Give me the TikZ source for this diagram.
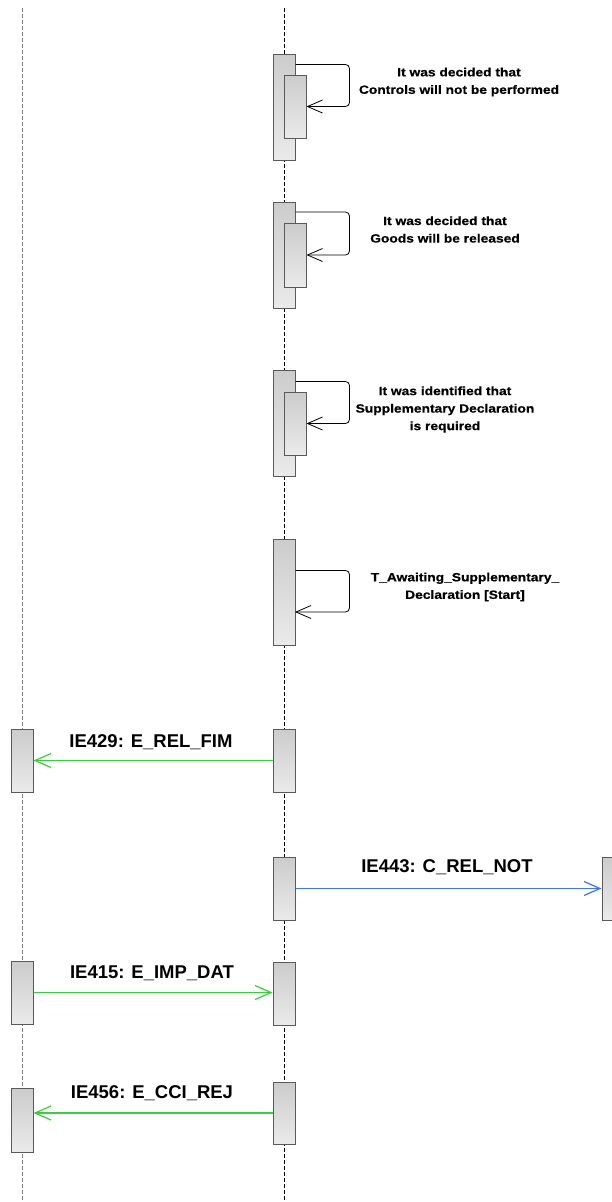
\documentclass[tikz,border=0pt]{standalone}
\usepackage{fontspec}
\setmainfont{Liberation Sans}
\newfontfamily\notefont[FakeStretch=1.15,FakeBold=0.6]{Liberation Sans Bold}
\usetikzlibrary{arrows.meta}

\definecolor{actline}{HTML}{5A5A5A}
\definecolor{acttop}{HTML}{CCCCCC}
\definecolor{actbottom}{HTML}{EAEAEA}
\definecolor{msggreen}{HTML}{3ACC3A}
\definecolor{msgblue}{HTML}{3C74F2}

\tikzset{
  act/.style={draw=actline, line width=1pt, top color=acttop, bottom color=actbottom,
              minimum width=22pt, minimum height=#1, inner sep=0pt},
  lifeline/.style={dash pattern=on 4pt off 2pt, line width=0.8pt},
  selfmsg/.style={line width=0.8pt, rounded corners=4pt, -{Straight Barb[length=15pt,width=13pt]}},
  greenmsg/.style={draw=msggreen, line width=1.2pt, -{Straight Barb[length=16pt,width=14pt]}},
  bluemsg/.style={draw=msgblue, line width=1.2pt, -{Straight Barb[length=16pt,width=14pt]}},
  note/.style={align=center, inner sep=0pt, font=\notefont\fontsize{12}{17.5}\selectfont},
  msglabel/.style={inner sep=0pt, font=\fontsize{18.5}{21}\selectfont\bfseries}
}

\begin{document}
\begin{tikzpicture}[x=1pt, y=-1pt]
\useasboundingbox (0,0) rectangle (612,1202);

\draw[lifeline, gray] (22,8) -- (22,1202);
\draw[lifeline] (284,8) -- (284,1202);

\node[act=106pt] (a1) at (284,107) {};
\node[act=63pt] (b1) at (295,106.5) {};
\draw[selfmsg] (a1.north east) ++(0,11) -- ++(54,0) |- (b1.east);
\node[note] (n1) at (459,82) {It was decided that\\Controls will not be performed};

\node[act=106pt] (a2) at (284,255.5) {};
\node[act=64pt] (b2) at (295,255) {};
\draw[selfmsg] (a2.north east) ++(0,10) -- ++(54,0) |- (b2.east);
\node[note] (n2) at (445,229.5) {It was decided that\\Goods will be released};

\node[act=106pt] (a3) at (284,423) {};
\node[act=63pt] (b3) at (295,423.5) {};
\draw[selfmsg] (a3.north east) ++(0,12) -- ++(54,0) |- (b3.east);
\node[note] (n3) at (445,409.5) {It was identified that\\Supplementary Declaration\\is required};

\node[act=106pt] (a4) at (284,592) {};
\coordinate (t4) at (295,612);
\draw[selfmsg] (a4.north east) ++(0,32) -- ++(54,0) |- (t4);
\node[note] (n4) at (465,587) {T\_Awaiting\_Supplementary\_\\Declaration [Start]};

\node[act=63pt] (l5) at (22,760.5) {};
\node[act=63pt] (m5) at (284,760.5) {};
\draw[greenmsg] (m5.west) -- (l5.east);
\node[msglabel] (t5) at (151,742) {IE429: E\_REL\_FIM};

\node[act=63pt] (m6) at (284,888.5) {};
\node[act=63pt] (r6) at (613,888.5) {};
\draw[bluemsg] (m6.east) -- (r6.west);
\node[msglabel] (t6) at (447,867) {IE443: C\_REL\_NOT};

\node[act=63pt] (l7) at (22,992.5) {};
\node[act=63pt] (m7) at (284,993.5) {};
\draw[greenmsg] (l7.east) -- (l7.east -| m7.west);
\node[msglabel] (t7) at (152,973) {IE415: E\_IMP\_DAT};

\node[act=64pt] (l8) at (22,1120) {};
\node[act=62pt] (m8) at (284,1113) {};
\draw[greenmsg] (m8.west) -- (m8.west -| l8.east);
\node[msglabel] (t8) at (152,1093) {IE456: E\_CCI\_REJ};
\end{tikzpicture}
\end{document}
